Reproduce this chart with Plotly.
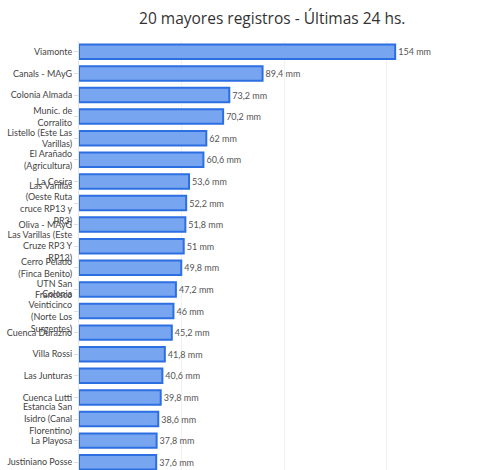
import plotly.graph_objects as go

stations = [
    "Viamonte", "Canals - MAyG", "Colonia Almada", "Munic. de<br>Corralito",
    "Listello (Este Las<br>Varillas)", "El Arañado<br>(Agricultura)", "La Cesira",
    "Las Varillas<br>(Oeste Ruta<br>cruce RP13 y<br>PR3)", "Oliva - MAyG",
    "Las Varillas (Este<br>Cruze RP3 Y<br>RP13)", "Cerro Pelado<br>(Finca Benito)",
    "UTN San<br>Francisco", "Colonia<br>Veinticinco<br>(Norte Los<br>Surgentes)",
    "Cuenca Durazno", "Villa Rossi", "Las Junturas", "Cuenca Lutti",
    "Estancia San<br>Isidro (Canal<br>Florentino)", "La Playosa", "Justiniano Posse",
]
values_mm = [154, 89.4, 73.2, 70.2, 62, 60.6, 53.6, 52.2, 51.8, 51, 49.8, 47.2,
             46, 45.2, 41.8, 40.6, 39.8, 38.6, 37.8, 37.6]
labels = [f"{v:g}".replace(".", ",") + " mm" for v in values_mm]

fig = go.Figure(go.Bar(
    x=values_mm, y=stations, orientation="h",
    text=labels, textposition="outside", cliponaxis=False,
    textfont=dict(size=9, color="#555555", family="Lato"),
    marker=dict(color="#78a5ef", line=dict(color="#2c6fe2", width=2)),
))
fig.update_layout(
    width=481, height=470,
    margin=dict(l=79, r=16, t=41, b=0),
    paper_bgcolor="white", plot_bgcolor="white",
    bargap=0.33, showlegend=False,
    title=dict(text="20 mayores registros - Últimas 24 hs.", x=0.566, xanchor="center",
               y=0.96, yanchor="middle",
               font=dict(size=15.5, color="#333333", family="Open Sans")),
    font=dict(family="Lato"),
)
fig.update_xaxes(range=[0, 188], showticklabels=False, showgrid=True,
                 gridcolor="#f1f1f1", gridwidth=1, zeroline=False, tickvals=[50, 100, 150])
fig.update_yaxes(range=[19.36, -0.5], showline=True, linecolor="#e6e6e6",
                 ticks="outside", ticklen=4, tickcolor="#dddddd",
                 tickfont=dict(size=9, color="#444444", family="Lato"))
fig.write_html("out.html")
